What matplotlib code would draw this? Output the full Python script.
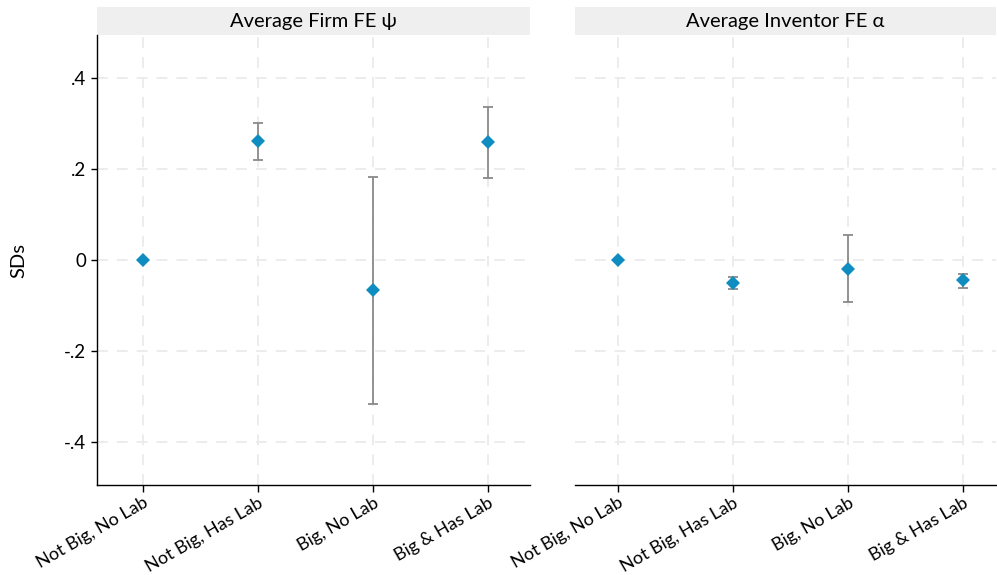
import matplotlib
matplotlib.use("Agg")
import matplotlib.pyplot as plt
from matplotlib.patches import Rectangle

plt.rcParams['font.family'] = ['Lato', 'DejaVu Sans']

# categories and estimates (SD units)
categories = ["Not Big, No Lab", "Not Big, Has Lab", "Big, No Lab", "Big & Has Lab"]
panel_titles = ["Average Firm FE \u03c8", "Average Inventor FE \u03b1"]

firm_est = [0.0, 0.262, -0.066, 0.259]
firm_lo = [0.0, 0.220, -0.316, 0.180]
firm_hi = [0.0, 0.302, 0.183, 0.336]

inv_est = [0.0, -0.050, -0.019, -0.045]
inv_lo = [0.0, -0.063, -0.092, -0.061]
inv_hi = [0.0, -0.037, 0.054, -0.031]

yticks = [-0.4, -0.2, 0, 0.2, 0.4]
ytick_labels = ["-.4", "-.2", "0", ".2", ".4"]

marker_color = "#0f8cc0"
bar_color = "#8a8a8a"
grid_color = "#ebebeb"

fig = plt.figure(figsize=(9.97, 5.75), dpi=100)
W, H = 997, 575
ax_top, ax_bot = 35, 485
panels = [(97, 530), (575, 996)]
xlims = [(-0.4, 3.365), (-0.374, 3.287)]
data = [(firm_est, firm_lo, firm_hi), (inv_est, inv_lo, inv_hi)]

for i, ((x0, x1), (est, lo, hi)) in enumerate(zip(panels, data)):
    ax = fig.add_axes([x0 / W, 1 - ax_bot / H, (x1 - x0) / W, (ax_bot - ax_top) / H])
    xs = list(range(len(categories)))
    has_ci = [h != l for h, l in zip(hi, lo)]
    xs_ci = [x for x, c in zip(xs, has_ci) if c]
    est_ci = [e for e, c in zip(est, has_ci) if c]
    err_lo = [e - l for e, l, c in zip(est, lo, has_ci) if c]
    err_hi = [h - e for e, h, c in zip(est, hi, has_ci) if c]
    ax.errorbar(xs_ci, est_ci, yerr=[err_lo, err_hi],
                fmt='none', ecolor=bar_color, elinewidth=1.3, capsize=3.5,
                capthick=1.3, zorder=3)
    ax.plot(xs, est, 'D', color=marker_color, markersize=7, zorder=4,
            markeredgewidth=0)

    ax.set_xlim(*xlims[i])
    ax.set_ylim(-0.4945, 0.4945)
    ax.set_yticks(yticks)
    ax.set_xticks(xs)
    ax.set_xticklabels(categories, rotation=30, ha='right', rotation_mode='anchor',
                       fontsize=13)
    ax.grid(True, color=grid_color, linestyle=(0, (6, 5)), linewidth=1.3)
    ax.set_axisbelow(True)
    for s in ['top', 'right']:
        ax.spines[s].set_visible(False)
    ax.spines['bottom'].set_linewidth(1.0)
    ax.tick_params(axis='x', length=5, width=1, pad=2)
    if i == 0:
        ax.set_yticklabels(ytick_labels, fontsize=13.5)
        ax.tick_params(axis='y', length=4, width=1, pad=4)
        ax.set_ylabel("SDs", fontsize=14.5, labelpad=26)
        ax.spines['left'].set_linewidth(1.0)
    else:
        ax.spines['left'].set_visible(False)
        ax.tick_params(axis='y', left=False, labelleft=False)

    strip_h = 28 / (ax_bot - ax_top)
    ax.add_patch(Rectangle((0, 1), 1, strip_h, transform=ax.transAxes,
                           facecolor="#efefef", edgecolor='none', clip_on=False))
    ax.text(0.5, 1 + strip_h / 2, panel_titles[i], transform=ax.transAxes,
            ha='center', va='center', fontsize=14.5)

fig.savefig("out.png", dpi=100)
